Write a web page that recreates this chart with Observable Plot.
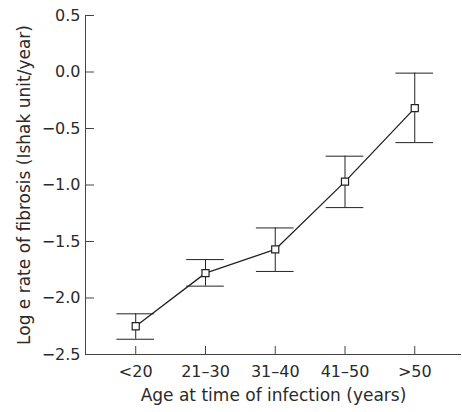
<!DOCTYPE html>
<html>
<head>
<meta charset="utf-8">
<script src="https://cdn.jsdelivr.net/npm/d3@7"></script>
<script src="https://cdn.jsdelivr.net/npm/@observablehq/plot@0.6"></script>
<style>
  html, body { margin: 0; padding: 0; background: #fff; }
  #chart svg { display: block; }
</style>
</head>
<body>
<div id="chart"></div>
<script>
const categories = ["<20", "21–30", "31–40", "41–50", ">50"];
const means = [-2.25, -1.78, -1.57, -0.97, -0.32];
const upper = [-2.14, -1.66, -1.38, -0.745, -0.01];
const lower = [-2.365, -1.895, -1.765, -1.20, -0.625];
const yTicks = [0.5, 0.0, -0.5, -1.0, -1.5, -2.0, -2.5];
const yTitle = "Log e rate of fibrosis (Ishak unit/year)";
const xTitle = "Age at time of infection (years)";

const data = categories.map((c, i) => ({i, c, m: means[i], hi: upper[i], lo: lower[i]}));
const capHalf = 0.27;
const ink = "#222";
const axisInk = "#444";
const textInk = "#2a2a2a";

const chart = Plot.plot({
  width: 462,
  height: 412,
  marginLeft: 85,
  marginRight: 1,
  marginTop: 15,
  marginBottom: 58,
  style: {fontFamily: "'DejaVu Sans', sans-serif", fontSize: "16px", color: textInk, background: "#fff"},
  x: {type: "linear", domain: [-0.72, 4.67]},
  y: {domain: [-2.5, 0.5]},
  marks: [
    Plot.axisY(yTicks, {
      tickSize: -9, tickPadding: 14, stroke: axisInk, fill: textInk,
      tickFormat: d => d3.format(".1f")(d).replace("-", "−"),
      label: null, fontSize: 16
    }),
    Plot.axisX(d3.range(categories.length), {
      tickSize: -8, tickPadding: 19, stroke: axisInk, fill: textInk,
      tickFormat: i => categories[i],
      label: null, fontSize: 16
    }),
    Plot.text([yTitle], {frameAnchor: "left", rotate: -90, dx: -61, fontSize: 17, fill: textInk, textAnchor: "middle"}),
    Plot.text([xTitle], {frameAnchor: "bottom", dy: 46, fontSize: 17, fill: textInk, textAnchor: "middle"}),
    Plot.ruleX([-0.72], {stroke: axisInk}),
    Plot.ruleY([-2.5], {stroke: axisInk}),
    Plot.ruleX(data, {x: "i", y1: "lo", y2: "hi", stroke: ink, strokeWidth: 1}),
    Plot.ruleY(data, {y: "hi", x1: d => d.i - capHalf, x2: d => d.i + capHalf, stroke: ink}),
    Plot.ruleY(data, {y: "lo", x1: d => d.i - capHalf, x2: d => d.i + capHalf, stroke: ink}),
    Plot.line(data, {x: "i", y: "m", stroke: ink, strokeWidth: 1.3}),
    Plot.dot(data, {x: "i", y: "m", symbol: "square", r: 4, fill: "#fff", stroke: ink, strokeWidth: 1.2})
  ]
});
document.getElementById("chart").append(chart);
</script>
</body>
</html>
